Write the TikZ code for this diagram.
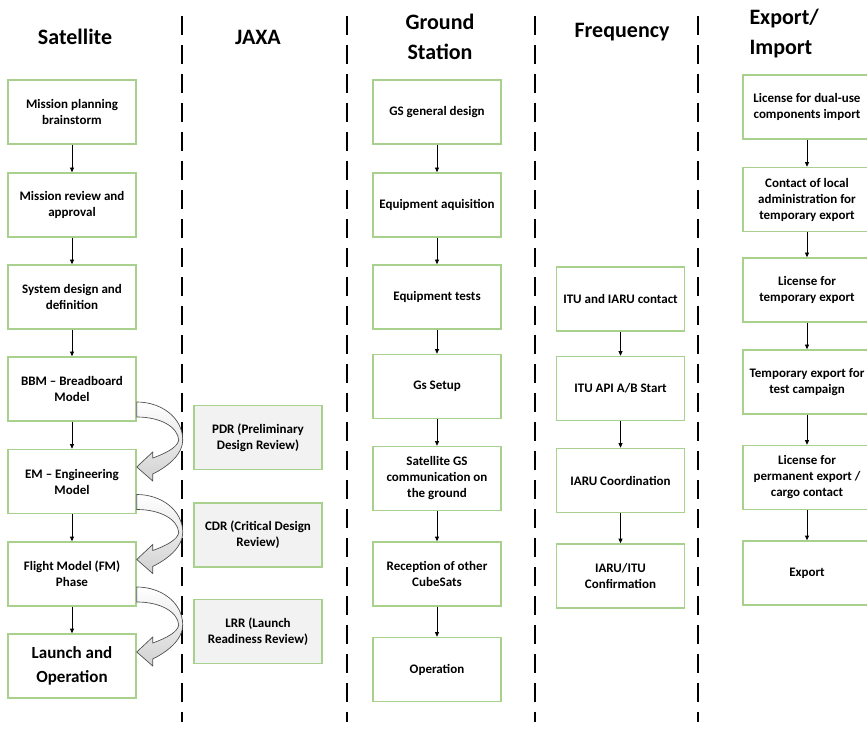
\documentclass[tikz,border=0pt]{standalone}
\usepackage{fontspec}
\setmainfont{Carlito}
\usetikzlibrary{arrows.meta}
\definecolor{boxgreen}{RGB}{169,209,142}
\definecolor{revgrey}{RGB}{242,242,242}
\tikzset{every picture/.style={line width=0.75pt}}
\tikzset{
  stepbox/.style={draw=boxgreen, line width=1.1pt, fill=white, minimum width=96pt, minimum height=48pt,
    inner sep=2pt, align=center, font=\fontsize{9.75}{12}\selectfont\bfseries},
  revbox/.style={stepbox, fill=revgrey},
  lanehead/.style={align=center, inner sep=0pt, font=\fontsize{16.5}{22.5}\selectfont\bfseries},
  flow/.style={-{Triangle[length=3.5pt,width=3pt]}, line width=0.6pt},
  lane/.style={line width=1.5pt, dash pattern=on 14.25pt off 7.5pt},
  curvearrow/.style={draw=black!70, top color=white, bottom color=black!18, line width=0.5pt}
}
\newcommand{\reviewarrow}[1]{%
  \draw[curvearrow, shift={(#1.east)}] (0,13) .. controls (25,13) and (46,29) .. (46,51)
      .. controls (46,64) and (34,76) .. (16,85) -- (16,92) -- (0,78) -- (16,63) -- (16,69)
      .. controls (30,64) and (41,58) .. (42,51) .. controls (41,38) and (24,28) .. (0,28) -- cycle;}

\begin{document}
\begin{tikzpicture}[x=0.75pt,y=0.75pt,yscale=-1,xscale=1]
      \clip (0,0) rectangle (867,730);
      \fill[white] (0,0) rectangle (867,730);
      % lane separators
      \draw[lane] (182,16) -- (182,722);
      \draw[lane] (347,16) -- (347,722);
      \draw[lane] (535,16) -- (535,722);
      \draw[lane] (698,16) -- (698,722);
      % headings
      \node[lanehead] (hsat) at (75,37) {Satellite};
      \node[lanehead] (hjaxa) at (258,37) {JAXA};
      \node[lanehead] (hgs) at (440,37) {Ground\\Station};
      \node[lanehead] (hfreq) at (622,32) {Frequency};
      \node[lanehead, align=left, anchor=west] (hexp) at (749,34) {Export/\\Import};
      % satellite
      \node[stepbox] (sat1) at (72,112) {Mission planning\\brainstorm};
      \node[stepbox] (sat2) at (72,205) {Mission review and\\approval};
      \node[stepbox] (sat3) at (72,297) {System design and\\definition};
      \node[stepbox] (sat4) at (72,389) {BBM – Breadboard\\Model};
      \node[stepbox] (sat5) at (72,481.5) {EM – Engineering\\Model};
      \node[stepbox] (sat6) at (72,574) {Flight Model (FM)\\Phase};
      \node[stepbox, font=\fontsize{12.75}{18}\selectfont\bfseries] (sat7) at (72,666) {Launch and\\Operation};
      \draw[flow] (sat1) -- (sat2);
      \draw[flow] (sat2) -- (sat3);
      \draw[flow] (sat3) -- (sat4);
      \draw[flow] (sat4) -- (sat5);
      \draw[flow] (sat5) -- (sat6);
      \draw[flow] (sat6) -- (sat7);
      \reviewarrow{sat4}
      \reviewarrow{sat5}
      \reviewarrow{sat6}
      % jaxa reviews
      \node[revbox] (pdr) at (258,437.5) {PDR (Preliminary\\Design Review)};
      \node[revbox] (cdr) at (258,535) {CDR (Critical Design\\Review)};
      \node[revbox] (lrr) at (258,631.5) {LRR (Launch\\Readiness Review)};
      % ground station
      \node[stepbox] (gs1) at (437,112) {GS general design};
      \node[stepbox] (gs2) at (437,205) {Equipment aquisition};
      \node[stepbox] (gs3) at (437,297) {Equipment tests};
      \node[stepbox] (gs4) at (437,386.5) {Gs Setup};
      \node[stepbox] (gs5) at (437,478.5) {Satellite GS\\communication on\\the ground};
      \node[stepbox] (gs6) at (437,574) {Reception of other\\CubeSats};
      \node[stepbox] (gs7) at (437,669.5) {Operation};
      \draw[flow] (gs1) -- (gs2);
      \draw[flow] (gs2) -- (gs3);
      \draw[flow] (gs3) -- (gs4);
      \draw[flow] (gs4) -- (gs5);
      \draw[flow] (gs5) -- (gs6);
      \draw[flow] (gs6) -- (gs7);
      % frequency
      \node[stepbox] (fq1) at (620.5,299) {ITU and IARU contact};
      \node[stepbox] (fq2) at (620.5,388.5) {ITU API A/B Start};
      \node[stepbox] (fq3) at (620.5,480.5) {IARU Coordination};
      \node[stepbox] (fq4) at (620.5,576) {IARU/ITU\\Confirmation};
      \draw[flow] (fq1) -- (fq2);
      \draw[flow] (fq2) -- (fq3);
      \draw[flow] (fq3) -- (fq4);
      % export / import
      \node[stepbox] (ex1) at (807,107) {License for dual-use\\components import};
      \node[stepbox] (ex2) at (807,199.5) {Contact of local\\administration for\\temporary export};
      \node[stepbox] (ex3) at (807,290) {License for\\temporary export};
      \node[stepbox] (ex4) at (807,382) {Temporary export for\\test campaign};
      \node[stepbox] (ex5) at (807,477.5) {License for\\permanent export /\\cargo contact};
      \node[stepbox] (ex6) at (807,573) {Export};
      \draw[flow] (ex1) -- (ex2);
      \draw[flow] (ex2) -- (ex3);
      \draw[flow] (ex3) -- (ex4);
      \draw[flow] (ex4) -- (ex5);
      \draw[flow] (ex5) -- (ex6);
\end{tikzpicture}
\end{document}
